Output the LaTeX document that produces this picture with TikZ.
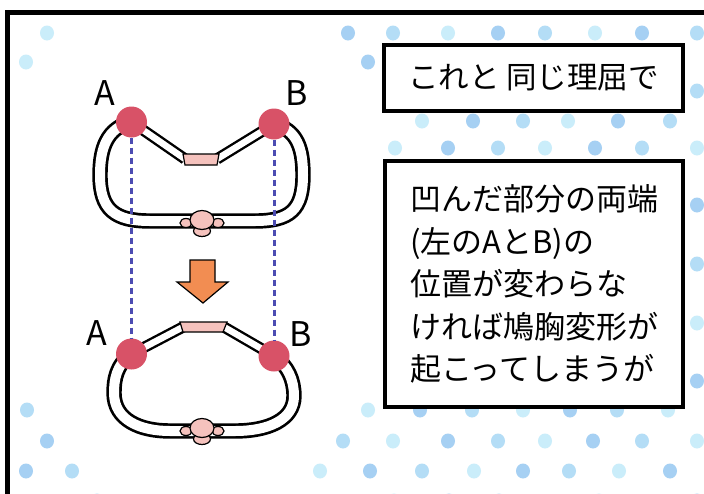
\documentclass[tikz,border=0pt]{standalone}
\usepackage{fontspec}
\newfontfamily\jp{Noto Sans CJK JP}
\usetikzlibrary{calc,positioning}

\definecolor{jointred}{RGB}{216,82,103}
\definecolor{bonepink}{RGB}{245,194,189}
\definecolor{arroworange}{RGB}{242,141,82}
\definecolor{guideblue}{RGB}{76,76,178}
\definecolor{dot0}{RGB}{180,221,246}
\definecolor{dot1}{RGB}{202,237,250}
\definecolor{dot2}{RGB}{166,208,243}

\tikzset{
   ribloop/.style={line width=2.7pt, double=white, double distance=10pt, line join=round},
   ribarm/.style={line width=2.4pt, double=white, double distance=6.5pt},
   bone/.style={draw=black, line width=1.2pt, fill=bonepink},
   joint/.style={circle, fill=jointred, minimum size=31pt},
   guide/.style={draw=guideblue, line width=3pt, dash pattern=on 6pt off 4pt},
   panelbox/.style={draw, line width=4pt, fill=white},
   tag/.style={font=\jp\fontsize{34}{34}\selectfont},
}

% one vertebra: body, two side lobes and the spinous process below
\newcommand{\vertebra}[1]{%
   \begin{scope}[shift={#1}]
      \filldraw[bone] (0,11) ellipse (8.5 and 5.5);
      \filldraw[bone] (-16,3) ellipse (6 and 4.5);
      \filldraw[bone] (16,3) ellipse (6 and 4.5);
      \filldraw[bone] (0,0) ellipse (12 and 9.5);
   \end{scope}}

\begin{document}
\begin{tikzpicture}[x=1pt, y=-1pt,
   every node/.style={inner sep=0, outer sep=0}]
   \useasboundingbox (0,0) rectangle (704,493);
   \fill[white] (0,0) rectangle (704,493);
   \clip (0,0) rectangle (704,493);

   % watercolour dots
   \foreach \x/\y [count=\i] in {47/33, 348/33, 393/33, 448/33, 498/33, 545/33,
      595/33, 642/33, 697/33, 26/62, 368/62, 697/91,
      422/121, 473/121, 523/121, 568/121, 618/121, 670/121,
      395/148, 448/148, 498/148, 545/148, 595/148, 642/148, 697/148,
      697/205, 697/264, 697/323, 697/381,
      27/410, 368/410, 420/410, 472/410, 523/410, 570/410, 617/410, 668/410,
      47/441, 343/441, 393/441, 448/441, 498/441, 545/441, 593/441, 642/441, 697/441,
      26/471, 72/471, 320/471, 370/471, 422/471, 474/471, 523/471, 569/471, 619/471, 670/471,
      97/501, 394/501, 449/501, 499/501, 599/501, 697/501} {
      \pgfmathtruncatemacro\k{mod(\i,3)}
      \fill[dot\k] (\x,\y) ellipse (7 and 7.5);
   }

   \draw[line width=5pt] (7.5,12.5) rectangle (730,530);

   % upper rib, front pushed in
   \draw[ribloop] (131.5,122) .. controls (107,128) and (100,148) .. (100,175)
      .. controls (100,210) and (115,221) .. (150,221) -- (255,221)
      .. controls (290,221) and (303,210) .. (303,175)
      .. controls (303,148) and (297,130) .. (274,124);
   \draw[ribarm] (131.5,122) -- (185,159);
   \draw[ribarm] (274,124) -- (217,159);
   \filldraw[bone] (183,154) -- (219,154) -- (217,165) -- (185,165) -- cycle;
   \vertebra{(202,220)}

   % pressing down
   \filldraw[draw=black, line width=1.2pt, fill=arroworange] (190,260) -- (215,260)
      -- (215,282) -- (228,282) -- (203,303) -- (177,282) -- (190,282) -- cycle;

   % lower rib, front pushed out
   \draw[ribloop] (131.5,354) .. controls (116,365) and (114,380) .. (114,393)
      .. controls (114,420) and (140,431) .. (170,431) -- (235,431)
      .. controls (268,431) and (294,420) .. (294,396)
      .. controls (294,380) and (288,366) .. (274,356);
   \draw[ribarm] (131.5,354) -- (183,327);
   \draw[ribarm] (274,356) -- (224,327);
   \filldraw[bone] (180,322) -- (227,322) -- (223,332) -- (183,332) -- cycle;
   \vertebra{(202,428)}

   \node[joint] (A1) at (131.5,122) {};
   \node[joint] (B1) at (274,124) {};
   \node[joint] (A2) at (131.5,354) {};
   \node[joint] (B2) at (274,356) {};
   \draw[guide] (A1) -- (A2);
   \draw[guide] (B1) -- (B2);

   \node[tag] (labA1) at (105,93) {A};
   \node[tag] (labB1) at (297,93) {B};
   \node[tag] (labA2) at (97,333) {A};
   \node[tag] (labB2) at (301,334) {B};

   \node[panelbox, minimum width=299pt, minimum height=66pt,
      font=\jp\fontsize{30.5}{30.5}\selectfont] (lead) at (533.5,78) {これと 同じ理屈で};
   \node[panelbox, minimum width=298pt, minimum height=246pt, align=left,
      font=\jp\fontsize{31}{42.5}\selectfont] (note) at (534,284)
      {凹んだ部分の両端\\(左のAとB)の\\位置が変わらな\\ければ鳩胸変形が\\起こってしまうが};
\end{tikzpicture}
\end{document}
